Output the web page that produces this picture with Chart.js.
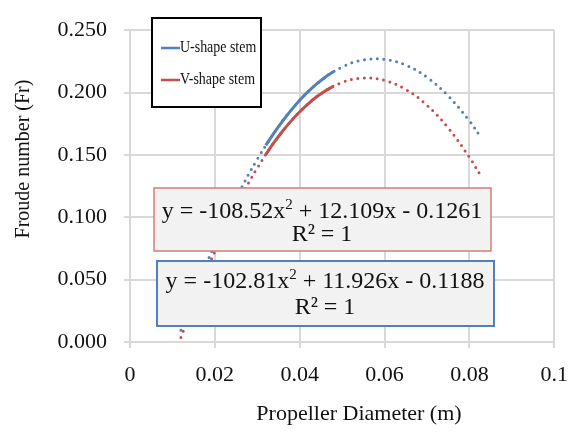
<!DOCTYPE html>
<html>
<head>
<meta charset="utf-8">
<script src="https://cdn.jsdelivr.net/npm/chart.js@4.4.1/dist/chart.umd.min.js"></script>
<style>
  html, body { margin: 0; padding: 0; background: #fff; }
  canvas { display: block; }
</style>
</head>
<body>
<canvas id="frChart" width="582" height="432"></canvas>
<script>
/* --------- データ --------- */
// 実測区間（実線）
const xSolid = [0.032, 0.034, 0.036, 0.038, 0.040, 0.042, 0.044, 0.046, 0.048];
const uSolid = [0.1576, 0.1678, 0.1773, 0.1859, 0.1938, 0.2007, 0.2069, 0.2123, 0.2168];
const vSolid = [0.1503, 0.1602, 0.1692, 0.1773, 0.1846, 0.1910, 0.1966, 0.2013, 0.2051];

// 近似曲線（点線）
const xTrend = [0.012, 0.015, 0.020, 0.025, 0.030, 0.035, 0.040, 0.045, 0.050, 0.055, 0.060, 0.065, 0.070, 0.075, 0.080, 0.0826];
const uTrend = [0.0095, 0.0370, 0.0786, 0.1151, 0.1465, 0.1727, 0.1938, 0.2097, 0.2205, 0.2261, 0.2266, 0.2220, 0.2123, 0.1973, 0.1773, 0.1648];
const vTrend = [0.0036, 0.0311, 0.0727, 0.1088, 0.1395, 0.1648, 0.1846, 0.1991, 0.2081, 0.2116, 0.2098, 0.2025, 0.1898, 0.1717, 0.1481, 0.1337];

const seriesNames = ["U-shape stem", "V-shape stem"];
const xTickLabels = ["0", "0.02", "0.04", "0.06", "0.08", "0.1"];
const yTickLabels = ["0.000", "0.050", "0.100", "0.150", "0.200", "0.250"];

// 近似式ラベル [x² の前, x² の後, R²]
const eqV = ["y = -108.52x", " + 12.109x - 0.1261", "R² = 1"];
const eqU = ["y = -102.81x", " + 11.926x - 0.1188", "R² = 1"];

/* --------- 色・フォント --------- */
const blue = "#4f81bd";
const red = "#c0504d";
const gridColor = "#d9d9d9";
const serif = "'Liberation Serif', 'Times New Roman', serif";

function toPoints(xs, ys) {
  return xs.map((x, i) => ({ x, y: ys[i] }));
}

function solidSet(label, data, color) {
  return { label, data, borderColor: color, borderWidth: 3, pointRadius: 0, showLine: true, tension: 0.3, order: 0 };
}

function trendSet(label, data, color) {
  return {
    label, data, borderColor: color, borderWidth: 3, pointRadius: 0, showLine: true,
    tension: 0.4, borderDash: [0, 6.5], borderCapStyle: "round", order: 1,
  };
}

/* --------- 描画プラグイン（凡例・近似式・軸タイトル） --------- */
function drawEquation(ctx, eq, cx, y1, y2) {
  ctx.fillStyle = "#111";
  ctx.textBaseline = "alphabetic";
  ctx.textAlign = "left";
  ctx.font = "24px " + serif;
  const w1 = ctx.measureText(eq[0]).width;
  const w3 = ctx.measureText(eq[1]).width;
  ctx.font = "15px " + serif;
  const w2 = ctx.measureText("2").width;
  let x = cx - (w1 + w2 + w3) / 2;
  ctx.font = "24px " + serif;
  ctx.fillText(eq[0], x, y1);
  ctx.font = "15px " + serif;
  ctx.fillText("2", x + w1, y1 - 9);
  ctx.font = "24px " + serif;
  ctx.fillText(eq[1], x + w1 + w2, y1);
  ctx.textAlign = "center";
  ctx.fillText(eq[2], cx, y2);
}

function drawBox(ctx, x, y, w, h, stroke, lw, fill) {
  ctx.fillStyle = fill;
  ctx.fillRect(x, y, w, h);
  ctx.strokeStyle = stroke;
  ctx.lineWidth = lw;
  ctx.strokeRect(x, y, w, h);
}

const overlayPlugin = {
  id: "overlay",
  afterDraw(chart) {
    const ctx = chart.ctx;
    ctx.save();

    // 近似式ボックス
    drawBox(ctx, 154, 188, 337, 63, "#d97b79", 1.5, "#f2f2f2");
    drawEquation(ctx, eqV, 322, 218, 241);
    drawBox(ctx, 157, 261, 337, 65, blue, 2, "#f2f2f2");
    drawEquation(ctx, eqU, 325, 288, 314);

    // 凡例
    drawBox(ctx, 152, 18, 109, 89, "#000", 2, "#fff");
    [[blue, 48], [red, 80]].forEach(([c, y], i) => {
      ctx.strokeStyle = c;
      ctx.lineWidth = 2.5;
      ctx.beginPath();
      ctx.moveTo(161, y);
      ctx.lineTo(180, y);
      ctx.stroke();
      ctx.save();
      ctx.translate(180, y);
      ctx.scale(0.82, 1);
      ctx.fillStyle = "#111";
      ctx.font = "17px " + serif;
      ctx.textAlign = "left";
      ctx.textBaseline = "middle";
      ctx.fillText(seriesNames[i], 0, 0);
      ctx.restore();
    });

    // 軸タイトル
    ctx.fillStyle = "#111";
    ctx.textAlign = "center";
    ctx.textBaseline = "alphabetic";
    ctx.font = "22px " + serif;
    ctx.fillText("Propeller Diameter (m)", 359, 420);
    ctx.save();
    ctx.translate(29, 159);
    ctx.rotate(-Math.PI / 2);
    ctx.font = "20px " + serif;
    ctx.fillText("Froude number (Fr)", 0, 0);
    ctx.restore();

    ctx.restore();
  },
};

/* --------- グラフ --------- */
new Chart(document.getElementById("frChart"), {
  type: "scatter",
  data: {
    datasets: [
      solidSet(seriesNames[0], toPoints(xSolid, uSolid), blue),
      solidSet(seriesNames[1], toPoints(xSolid, vSolid), red),
      trendSet("U trend", toPoints(xTrend, uTrend), blue),
      trendSet("V trend", toPoints(xTrend, vTrend), red),
    ],
  },
  options: {
    responsive: false,
    animation: false,
    devicePixelRatio: 1,
    layout: { padding: { left: 0, right: 23, top: 16, bottom: 0 } },
    plugins: { legend: { display: false }, tooltip: { enabled: false } },
    scales: {
      x: {
        type: "linear",
        min: 0,
        max: 0.1,
        afterFit: (s) => { s.height = 90; },
        afterBuildTicks: (s) => { s.ticks = xTickLabels.map((_, i) => ({ value: i * 0.02 })); },
        ticks: { callback: (v, i) => xTickLabels[i], font: { family: serif, size: 22 }, color: "#111", padding: 14, maxRotation: 0 },
        grid: { color: gridColor, lineWidth: 2, tickLength: 6 },
        border: { color: gridColor, width: 2 },
      },
      y: {
        min: 0,
        max: 0.25,
        afterFit: (s) => { s.width = 130; },
        afterBuildTicks: (s) => { s.ticks = yTickLabels.map((_, i) => ({ value: i * 0.05 })); },
        ticks: { callback: (v, i) => yTickLabels[i], font: { family: serif, size: 22 }, color: "#111", padding: 17 },
        grid: { color: gridColor, lineWidth: 2, tickLength: 6 },
        border: { color: gridColor, width: 2 },
      },
    },
  },
  plugins: [overlayPlugin],
});
</script>
</body>
</html>
